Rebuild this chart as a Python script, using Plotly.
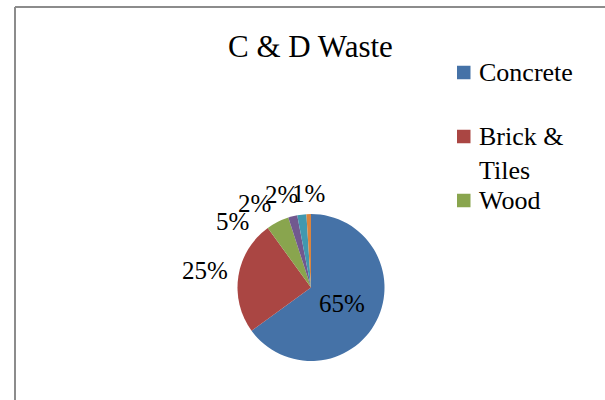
import math
import plotly.graph_objects as go

# Composition of construction & demolition waste (percent)
categories = ["Concrete", "Brick & Tiles", "Wood", "Metal", "Plastic", "Others"]
shares = [65, 25, 5, 2, 2, 1]
colors = ["#4572A7", "#AA4643", "#89A54E", "#71588F", "#4198AF", "#DB843D"]
legend_count = 3          # legend box only has room for the first entries
title_text = "C & D Waste"

W, H = 605, 400
cx, cy, R = 311, 287.5, 73.5      # pie centre / radius in pixels
FONT = "Liberation Serif"
LABEL_SIZE = 25
LEGEND_SIZE = 26


def fx(x):
    return x / W


def fy(y):
    return 1 - y / H


fig = go.Figure(
    go.Pie(
        labels=categories,
        values=shares,
        sort=False,
        direction="clockwise",
        rotation=0,
        marker=dict(colors=colors, line=dict(width=0)),
        textinfo="none",
        hoverinfo="label+percent",
        domain=dict(x=[fx(cx - R), fx(cx + R)], y=[fy(cy + R), fy(cy - R)]),
        showlegend=False,
    )
)

annotations = []
shapes = []

# ---- data labels -------------------------------------------------------
total = sum(shares)
mids, cum = [], 0
for v in shares:
    mids.append(360 * (cum + v / 2) / total)
    cum += v
texts = [f"{round(100 * v / total)}%" for v in shares]


def text_width(s, size):
    w = 0
    for ch in s:
        w += 0.833 if ch == "%" else 0.5
    return w * size


# largest slice: label inside
th = math.radians(mids[0])
r_in = 0.47 * R
annotations.append(dict(
    x=fx(cx + r_in * math.sin(th)), y=fy(cy - r_in * math.cos(th)),
    text=texts[0], showarrow=False, xanchor="center", yanchor="middle",
    font=dict(family=FONT, size=LABEL_SIZE, color="black"),
))

# remaining slices: labels outside, pushed apart so they do not collide
gap = 16
angles = {}
prev = None
for i in range(len(shares) - 1, 0, -1):
    a = mids[i] if prev is None else min(mids[i], prev - gap)
    angles[i] = a
    prev = a

pad = 10
for i in range(1, len(shares)):
    th = math.radians(angles[i])
    w = text_width(texts[i], LABEL_SIZE)
    h = 0.8 * LABEL_SIZE
    ext = abs(math.sin(th)) * w / 2 + abs(math.cos(th)) * h / 2
    r = R + pad + ext
    annotations.append(dict(
        x=fx(cx + r * math.sin(th)), y=fy(cy - r * math.cos(th)),
        text=texts[i], showarrow=False, xanchor="center", yanchor="middle",
        font=dict(family=FONT, size=LABEL_SIZE, color="black"),
    ))

# ---- title ------------------------------------------------------------
annotations.append(dict(
    x=fx(310), y=fy(46), text=title_text, showarrow=False,
    xanchor="center", yanchor="middle",
    font=dict(family=FONT, size=31, color="black"),
))


# ---- legend (truncated, Excel style) -----------------------------------
def wrap(label, limit=8):
    lines, cur = [], ""
    for word in label.split(" "):
        cand = word if not cur else cur + " " + word
        if len(cand) > limit and cur:
            lines.append(cur)
            cur = word
        else:
            cur = cand
    lines.append(cur)
    return lines


leg_x, leg_y0, leg_step, box = 457, 72.5, 64, 13.5
for k in range(legend_count):
    yc = leg_y0 + k * leg_step
    shapes.append(dict(
        type="rect", xref="paper", yref="paper",
        x0=fx(leg_x), x1=fx(leg_x + box), y0=fy(yc - box / 2), y1=fy(yc + box / 2),
        fillcolor=colors[k], line=dict(width=0),
    ))
    lines = wrap(categories[k])
    annotations.append(dict(
        x=fx(leg_x + 20), y=fy(yc - 0.65 * LEGEND_SIZE), text="<br>".join(lines),
        showarrow=False, xanchor="left", yanchor="top", align="left",
        font=dict(family=FONT, size=LEGEND_SIZE, color="black"),
    ))

# ---- chart-area border ---------------------------------------------------
border = dict(color="#8C8C8C", width=2)
shapes.append(dict(type="line", xref="paper", yref="paper",
                   x0=fx(15), x1=fx(W + 5), y0=fy(7), y1=fy(7), line=border))
shapes.append(dict(type="line", xref="paper", yref="paper",
                   x0=fx(15), x1=fx(15), y0=fy(7), y1=fy(H + 5), line=border))

fig.update_layout(
    width=W, height=H, autosize=False,
    margin=dict(l=0, r=0, t=0, b=0),
    paper_bgcolor="white", plot_bgcolor="white",
    annotations=annotations, shapes=shapes,
    showlegend=False,
)

fig.write_html("out.html")
